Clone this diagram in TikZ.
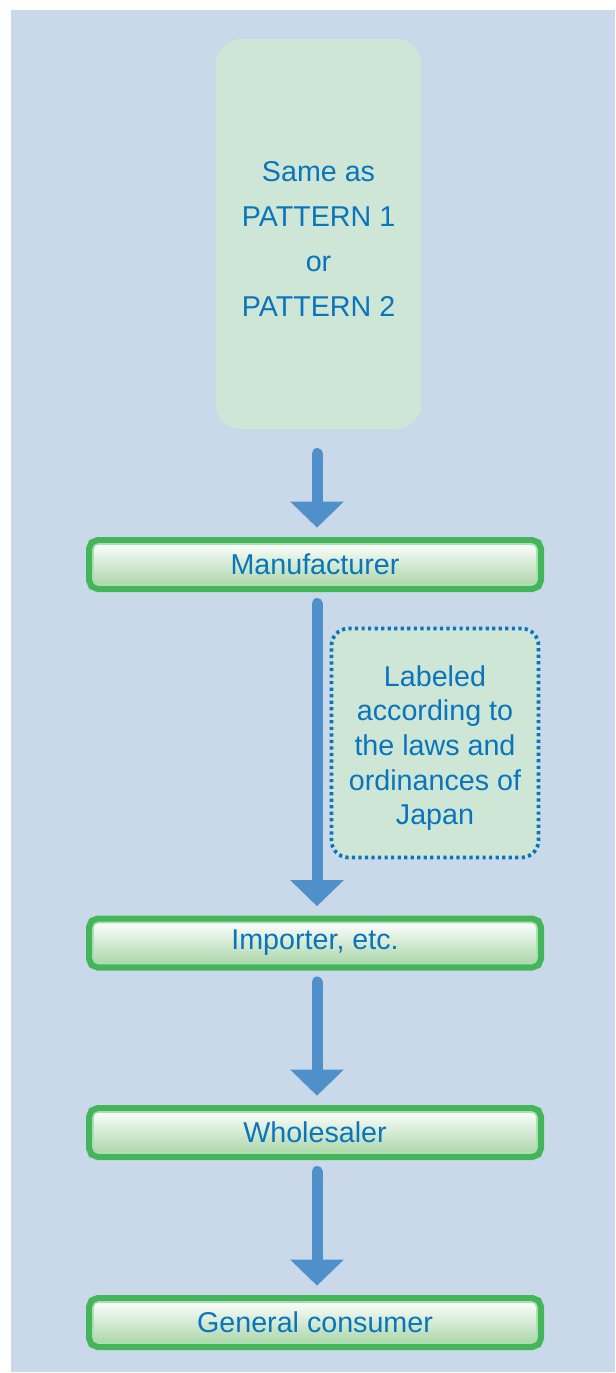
\documentclass[tikz,border=0pt]{standalone}
\usepackage{fontspec}
\setmainfont{Liberation Sans}
\usetikzlibrary{arrows.meta}

\definecolor{panelblue}{RGB}{201,217,234}
\definecolor{palegreen}{RGB}{206,230,214}
\definecolor{textblue}{RGB}{10,117,188}
\definecolor{flowblue}{RGB}{80,144,202}
\definecolor{rimgreen}{RGB}{69,181,89}
\definecolor{shadegreen}{RGB}{172,215,170}

\tikzset{every picture/.style={line width=0.75pt}}
\tikzset{
    stagebox/.style={rounded corners=4pt, minimum width=333pt, minimum height=30.75pt, inner sep=0pt, outer sep=5.25pt,
        top color=white!96!shadegreen, bottom color=shadegreen, draw=white!55!rimgreen, line width=1.2pt,
        preaction={draw=rimgreen, fill=rimgreen, line width=10.5pt},
        text=textblue, font=\fontsize{21.5}{25}\selectfont},
    notebox/.style={draw=textblue, fill=palegreen, line width=2.8pt, dash pattern=on 2.4pt off 2.5pt, line cap=butt,
        rounded corners=12.75pt, minimum width=155.25pt, minimum height=171.75pt, inner sep=0pt, align=center,
        text=textblue, font=\fontsize{21.5}{26}\selectfont},
    flow/.style={draw=flowblue, line width=8.25pt, line cap=round, -{Triangle[length=19.5pt,width=39pt]}}
}

\begin{document}
\begin{tikzpicture}[x=0.75pt,y=0.75pt,yscale=-1,xscale=1]
    \useasboundingbox (0,0) rectangle (615,1373);

    %Shape: Rectangle [background]
    \fill[panelblue] (11,10) rectangle (615,1372);

    %Shape: Rounded Rectangle [patterns]
    \node[fill=palegreen, rounded corners=18.75pt, minimum width=153.75pt, minimum height=292.5pt, inner sep=0pt,
        align=center, text=textblue, font=\fontsize{21.5}{33.75}\selectfont] (pattern) at (318.5,234)
        {\rule{0pt}{23pt}Same as\\PATTERN 1\\or\\PATTERN 2};

    %Shape: Rounded Rectangle [stages]
    \node[stagebox] (maker) at (315,564.5) {Manufacturer};
    \node[stagebox] (importer) at (315,943) {Importer, etc.};
    \node[stagebox] (wholesaler) at (315,1132.5) {Wholesaler};
    \node[stagebox] (consumer) at (315,1322.5) {General consumer};

    %Shape: Rounded Rectangle [dotted note]
    \node[notebox] (label) at (435,743) {\rule{0pt}{23pt}Labeled\\according to\\the laws and\\ordinances of\\Japan};

    %Straight Lines [flow arrows]
    \coordinate (spine) at (317,0);
    \draw[flow, shorten <=18pt, shorten >=7pt] (pattern.south -| spine) -- (maker.north -| spine);
    \draw[flow, shorten <=8.6pt, shorten >=7pt] (maker.south -| spine) -- (importer.north -| spine);
    \draw[flow, shorten <=8.6pt, shorten >=7pt] (importer.south -| spine) -- (wholesaler.north -| spine);
    \draw[flow, shorten <=8.6pt, shorten >=7pt] (wholesaler.south -| spine) -- (consumer.north -| spine);
\end{tikzpicture}
\end{document}
